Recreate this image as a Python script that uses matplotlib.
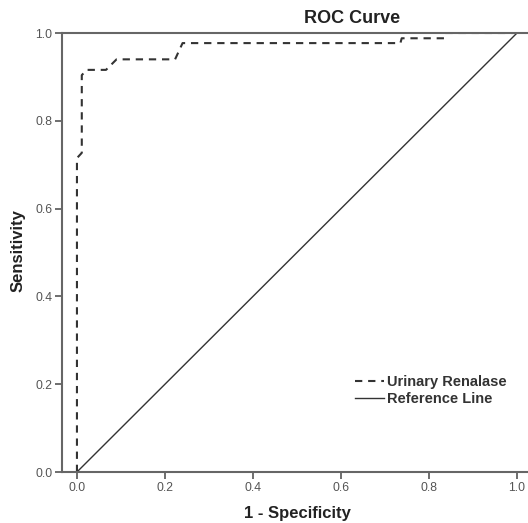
import matplotlib
matplotlib.use("Agg")
import matplotlib.pyplot as plt

plt.rcParams["font.family"] = ["Liberation Sans", "DejaVu Sans"]

# ROC curve points
fpr = [0.0, 0.0, 0.011, 0.011, 0.022, 0.066, 0.09, 0.223, 0.24, 0.735, 0.738, 0.834, 0.836, 1.0]
tpr = [0.0, 0.715, 0.727, 0.904, 0.916, 0.916, 0.94, 0.94, 0.977, 0.977, 0.988, 0.988, 1.0, 1.0]
ref_x = [0.0, 1.0]
ref_y = [0.0, 1.0]
ticks = [0.0, 0.2, 0.4, 0.6, 0.8, 1.0]

fig = plt.figure(figsize=(5.28, 5.23), dpi=100)
ax = fig.add_axes([0.1174, 0.0975, 0.8826, 0.8394])

c = "#333333"
ax.plot(fpr, tpr, color=c, lw=1.5, ls=(0, (3.5, 2.8)), label="Urinary Renalase")
ax.plot(ref_x, ref_y, color=c, lw=1.0, label="Reference Line")

ax.set_xlim(-0.034, 1.025)
ax.set_ylim(0, 1)
ax.set_xticks(ticks)
ax.set_yticks(ticks)
ax.set_xticklabels([f"{t:.1f}" for t in ticks])
ax.set_yticklabels([f"{t:.1f}" for t in ticks])
ax.tick_params(direction="out", length=5, width=1.2, color="#555555",
               labelsize=8.8, labelcolor="#555555", pad=2)
for s in ["left", "bottom", "top"]:
    ax.spines[s].set_color("#666666")
    ax.spines[s].set_linewidth(1.5)
ax.spines["right"].set_visible(False)

fig.text(0.667, 0.965, "ROC Curve", ha="center", va="center",
         fontsize=13, fontweight="bold", color="#222222")
fig.text(0.563, 0.018, "1 - Specificity", ha="center", va="center",
         fontsize=12, fontweight="bold", color="#222222")
fig.text(0.035, 0.52, "Sensitivity", ha="center", va="center", rotation=90,
         fontsize=12, fontweight="bold", color="#222222")

leg = ax.legend(loc="upper left", bbox_to_anchor=(0.6, 0.25), frameon=False,
                handlelength=2.0, handletextpad=0.2, labelspacing=0.2,
                prop={"weight": "bold", "size": 10.5})
for t in leg.get_texts():
    t.set_color("#333333")

fig.savefig("out.png", dpi=100)
